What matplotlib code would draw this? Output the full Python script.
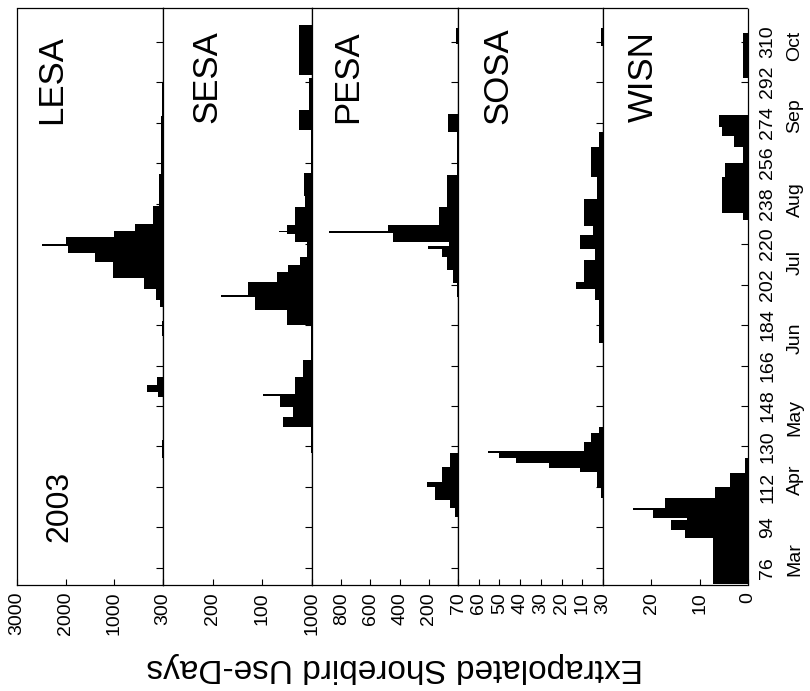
import numpy as np
import matplotlib
matplotlib.use("Agg")
import matplotlib.pyplot as plt
import matplotlib.transforms as mtransforms

plt.rcParams['font.family'] = ['Liberation Sans', 'DejaVu Sans']

# step edges (day of year) and extrapolated use-days in each step
lesa_edges = [68.4, 125, 133, 152, 154.4, 157.3, 161, 179, 186, 192, 195, 200, 205, 212,
              216, 219, 220, 223, 226, 229, 237, 251, 277, 292, 325]
lesa_use = [0, 30, 0, 100, 330, 120, 0, 20, 0, 60, 150, 400, 1020, 1400,
            1950, 2490, 1990, 1000, 575, 200, 75, 45, 20, 0]

sesa_edges = [68.4, 127, 138.7, 143, 147.6, 152.5, 153.5, 161, 168.4, 184, 190.7, 196.4,
              197.4, 203.1, 207.6, 210.7, 214.2, 220.8, 224.4, 225.2, 226, 228.4, 236.4,
              241.6, 251.5, 270.7, 279.6, 293.8, 295, 317.3, 325]
sesa_use = [0, 2, 58, 38, 64, 98, 34, 18, 3, 51, 115, 184, 128, 71, 48, 24, 10, 34,
            51, 66, 51, 34, 14, 16, 3, 27, 7, 0, 27, 0]

pesa_edges = [68.4, 98.7, 102.7, 106.2, 112.1, 114.4, 121, 127, 196.4, 202.7, 208.4,
              214.2, 218, 219, 220.8, 225, 226, 228.4, 236.4, 250.7, 270, 278, 309, 316, 325]
pesa_use = [0, 20, 55, 158, 215, 112, 57, 0, 10, 34, 78, 112, 205, 60, 445, 884, 479,
            130, 78, 9, 66, 0, 15, 0]

sosa_edges = [68.4, 107, 112, 118.8, 120.3, 122.5, 124.8, 127, 128, 132, 136, 138.7, 176,
              195, 200, 203, 213, 218, 224, 228, 240, 250, 263, 270, 308, 316, 325]
sosa_use = [0, 1, 3, 11, 26, 42, 50, 55.5, 9, 6, 2, 0, 2, 4, 13, 9, 4, 11, 5, 9, 3, 6,
            2, 0, 1, 0]

wisn_edges = [68.4, 69, 89.3, 92.9, 97.3, 98.3, 101.8, 102.7, 107, 112, 118.2, 125, 230.7,
              233.8, 249.8, 256, 263, 268, 272, 277.3, 294, 313.8, 325]
wisn_use = [0, 7.3, 13, 16, 12.6, 19.6, 23.8, 17.2, 6.9, 3.7, 0.7, 0, 1, 5.4, 4.8, 1,
            2.9, 5.3, 6.1, 0, 1, 0]

species = ["LESA", "SESA", "PESA", "SOSA", "WISN"]
edges = [lesa_edges, sesa_edges, pesa_edges, sosa_edges, wisn_edges]
uses = [lesa_use, sesa_use, pesa_use, sosa_use, wisn_use]
count_max = [3000, 300, 1000, 70, 30]
count_ticks = [[0, 1000, 2000, 3000], [0, 100, 200, 300],
               [0, 200, 400, 600, 800, 1000],
               [0, 10, 20, 30, 40, 50, 60, 70], [0, 10, 20, 30]]

day_ticks = [76, 94, 112, 130, 148, 166, 184, 202, 220, 238, 256, 274, 292, 310]
months = ["Mar", "Apr", "May", "Jun", "Jul", "Aug", "Sep", "Oct"]
month_pos = [80, 115, 143, 178, 212, 240, 277, 308]

# layout in pixels of the 810x691 picture
W, H = 810, 691
xb = [17, 163, 312, 458, 603, 748]
top, bot = 8, 585
name_xy = [(52, 80), (207, 77), (348, 77), (498, 76), (643, 77)]

fig = plt.figure(figsize=(W / 100, H / 100), dpi=100)
axes = []
for i in range(5):
    ax = fig.add_axes([xb[i] / W, 1 - bot / H, (xb[i + 1] - xb[i]) / W, (bot - top) / H])
    e = np.array(edges[i])
    ax.barh(e[:-1], uses[i], height=np.diff(e), align='edge', color='black', linewidth=0)
    ax.set_xlim(count_max[i], 0)
    ax.set_ylim(68.4, 325)

    # day axis: ticks on the zero line of every panel
    ax.set_yticks(day_ticks)
    ax.yaxis.tick_right()
    ax.tick_params(axis='y', direction='in', length=5, width=0.8,
                   labelright=(i == 4), labelleft=False, labelsize=14,
                   labelrotation=90, pad=8)
    for lbl in ax.get_yticklabels():
        lbl.set_va('center')

    # count axis
    ct = count_ticks[i]
    ax.set_xticks(ct)
    labs = [str(v) if (v != 0 or i == 4) else '' for v in ct]
    ax.set_xticklabels(labs)
    ax.tick_params(axis='x', direction='in', length=4, width=0.8, labelsize=14,
                   labelrotation=90, pad=5)
    ax.set_xticks([count_max[i]], minor=True)
    ax.tick_params(axis='x', which='minor', direction='in', length=9, width=0.8)

    for s in ax.spines.values():
        s.set_linewidth(0.9)
    for s in ['top', 'bottom']:
        ax.spines[s].set_linestyle((0, (1, 1)))
    if i == 0:
        ax.spines['left'].set_linestyle((0, (1, 1)))
    if i == 4:
        ax.spines['right'].set_linestyle((0, (1, 1)))

    fig.text(name_xy[i][0] / W, 1 - name_xy[i][1] / H, species[i], rotation=90,
             ha='center', va='center', fontsize=25)
    axes.append(ax)

fig.text(59 / W, 1 - 506 / H, "2003", rotation=90, ha='center', va='center', fontsize=23)

trans = mtransforms.blended_transform_factory(axes[4].transAxes, axes[4].transData)
for m, d in zip(months, month_pos):
    axes[4].text((795 - 603) / 145, d, m, transform=trans, rotation=90,
                 ha='center', va='center', fontsize=14, clip_on=False)

fig.text(395 / W, 1 - 668 / H, "Extrapolated Shorebird Use-Days", rotation=180,
         ha='center', va='center', fontsize=24)

fig.savefig("out.png", dpi=100)
